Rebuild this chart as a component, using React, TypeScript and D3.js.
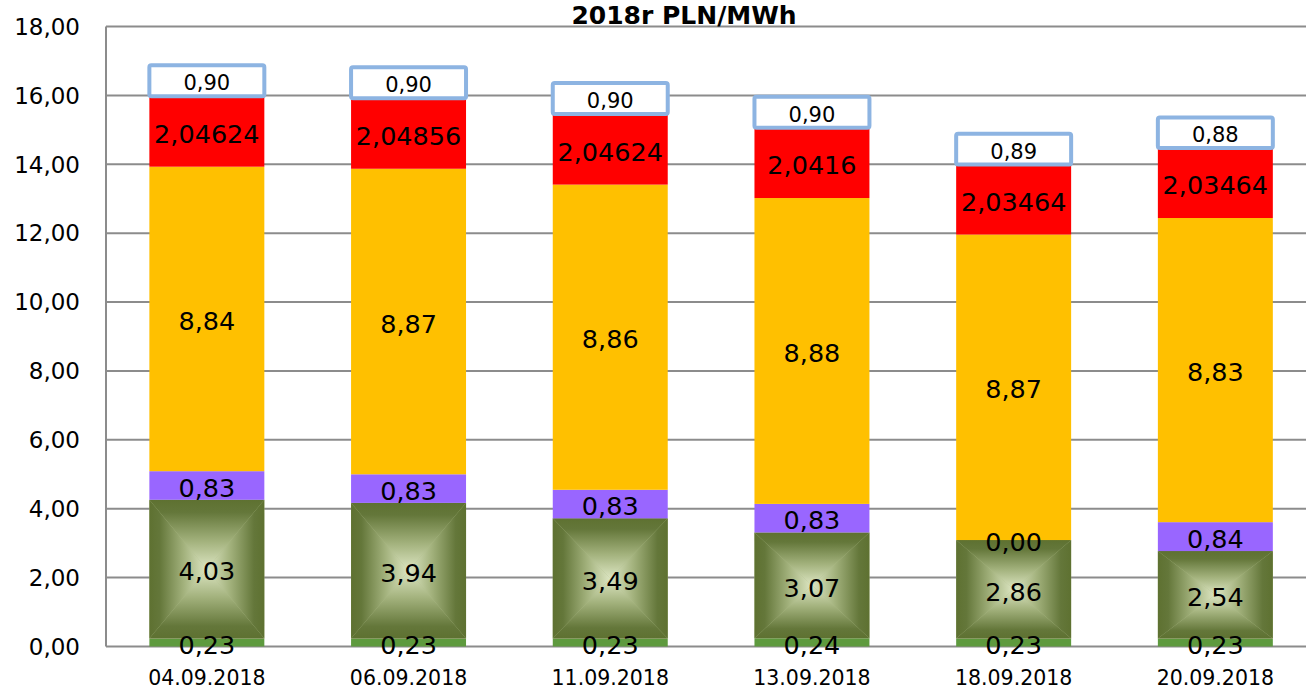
import React from 'react';
import * as d3 from 'd3';

const categories = ['04.09.2018', '06.09.2018', '11.09.2018', '13.09.2018', '18.09.2018', '20.09.2018'];
const greenValues = [0.23, 0.23, 0.23, 0.24, 0.23, 0.23];
const oliveValues = [4.03, 3.94, 3.49, 3.07, 2.86, 2.54];
const purpleValues = [0.83, 0.83, 0.83, 0.83, 0.0, 0.84];
const orangeValues = [8.84, 8.87, 8.86, 8.88, 8.87, 8.83];
const redValues = [2.04624, 2.04856, 2.04624, 2.0416, 2.03464, 2.03464];
const topValues = [0.9, 0.9, 0.9, 0.9, 0.89, 0.88];
const yTicks = [0, 2, 4, 6, 8, 10, 12, 14, 16, 18];
const title = '2018r PLN/MWh';

type Series = { key: string; values: number[]; fill: string; fmt: (v: number) => string };

const fmt2 = (v: number) => v.toFixed(2).replace('.', ',');
const fmtRaw = (v: number) => String(v).replace('.', ',');

const series: Series[] = [
  { key: 'green', values: greenValues, fill: '#5E9A3E', fmt: fmt2 },
  { key: 'olive', values: oliveValues, fill: 'olive', fmt: fmt2 },
  { key: 'purple', values: purpleValues, fill: '#9966FF', fmt: fmt2 },
  { key: 'orange', values: orangeValues, fill: '#FFC000', fmt: fmt2 },
  { key: 'red', values: redValues, fill: '#FF0000', fmt: fmtRaw },
  { key: 'top', values: topValues, fill: '#FFFFFF', fmt: fmt2 },
];

const W = 1306;
const H = 691;
const left = 106;
const step = 201.7;
const y0 = 646.5;
const y18 = 26.5;
const FONT = '"DejaVu Sans", sans-serif';

export default function App() {
  const x = d3
    .scaleBand<string>()
    .domain(categories)
    .range([left, left + step * categories.length])
    .paddingInner(0.43)
    .paddingOuter(0.215);
  const y = d3.scaleLinear().domain([0, 18]).range([y0, y18]);
  const bw = x.bandwidth();

  const stackData = categories.map((c, i) => {
    const o: any = { cat: c };
    series.forEach((s) => (o[s.key] = s.values[i]));
    return o;
  });
  const stacked = d3.stack<any>().keys(series.map((s) => s.key))(stackData);

  const gradStops = (
    <>
      <stop offset="0" stopColor="#5E7131" />
      <stop offset="0.18" stopColor="#64773A" />
      <stop offset="0.6" stopColor="#A3B27D" />
      <stop offset="1" stopColor="#DDE6C3" />
    </>
  );

  return (
    <svg
      width={W}
      height={H}
      style={{ position: 'absolute', left: 0, top: 0, background: '#fff' }}
      fontFamily={FONT}
    >
      <defs>
        <linearGradient id="gT" x1="0" y1="0" x2="0" y2="1">{gradStops}</linearGradient>
        <linearGradient id="gB" x1="0" y1="1" x2="0" y2="0">{gradStops}</linearGradient>
        <linearGradient id="gL" x1="0" y1="0" x2="1" y2="0">{gradStops}</linearGradient>
        <linearGradient id="gR" x1="1" y1="0" x2="0" y2="0">{gradStops}</linearGradient>
      </defs>
      <rect x={0} y={0} width={W} height={H} fill="#fff" />

      {/* gridlines */}
      {yTicks.map((t) => (
        <line key={t} x1={left} x2={W} y1={y(t)} y2={y(t)} stroke="#8C8C8C" strokeWidth={2} />
      ))}
      <line x1={left} x2={left} y1={y(18)} y2={y(0)} stroke="#8C8C8C" strokeWidth={2} />

      {/* y tick labels */}
      {yTicks.map((t) => (
        <text key={t} x={80} y={y(t)} dy="0.36em" textAnchor="end" fontSize={23} fill="#000">
          {fmt2(t)}
        </text>
      ))}

      {/* bars */}
      {stacked.map((layer, li) => {
        const s = series[li];
        return (
          <g key={s.key}>
            {layer.map((d, i) => {
              const bx = x(categories[i]) as number;
              const yt = y(d[1]);
              const yb = y(d[0]);
              const h = yb - yt;
              if (s.key === 'olive') {
                const cx = bx + bw / 2;
                const cy = (yt + yb) / 2;
                return (
                  <g key={i}>
                    <rect x={bx} y={yt} width={bw} height={h} fill="#AEBC88" />
                    <polygon points={`${bx},${yt} ${bx + bw},${yt} ${cx},${cy}`} fill="url(#gT)" />
                    <polygon points={`${bx},${yb} ${bx + bw},${yb} ${cx},${cy}`} fill="url(#gB)" />
                    <polygon points={`${bx},${yt} ${bx},${yb} ${cx},${cy}`} fill="url(#gL)" />
                    <polygon points={`${bx + bw},${yt} ${bx + bw},${yb} ${cx},${cy}`} fill="url(#gR)" />
                  </g>
                );
              }
              if (s.key === 'top') {
                return (
                  <rect key={i} x={bx} y={yt} width={bw} height={h} rx={2} fill="#fff" stroke="#8DB4E2" strokeWidth={4} />
                );
              }
              return <rect key={i} x={bx} y={yt} width={bw} height={h} fill={s.fill} />;
            })}
          </g>
        );
      })}

      {/* labels */}
      {stacked.map((layer, li) => {
        const s = series[li];
        const fs = s.key === 'top' ? 21 : 25.5;
        return (
          <g key={'l' + s.key}>
            {layer.map((d, i) => {
              const cx = (x(categories[i]) as number) + bw / 2;
              const cy = (y(d[0]) + y(d[1])) / 2 + 2;
              return (
                <text key={i} x={cx} y={cy} dy="0.36em" textAnchor="middle" fontSize={fs} fill="#000">
                  {s.fmt(s.values[i])}
                </text>
              );
            })}
          </g>
        );
      })}

      {/* x labels */}
      {categories.map((c) => (
        <text key={c} x={(x(c) as number) + bw / 2} y={685} textAnchor="middle" fontSize={20.5} fill="#000">
          {c}
        </text>
      ))}

      {/* title */}
      <text x={684} y={24} textAnchor="middle" fontSize={25} fontWeight="bold" fill="#000">
        {title}
      </text>
    </svg>
  );
}
